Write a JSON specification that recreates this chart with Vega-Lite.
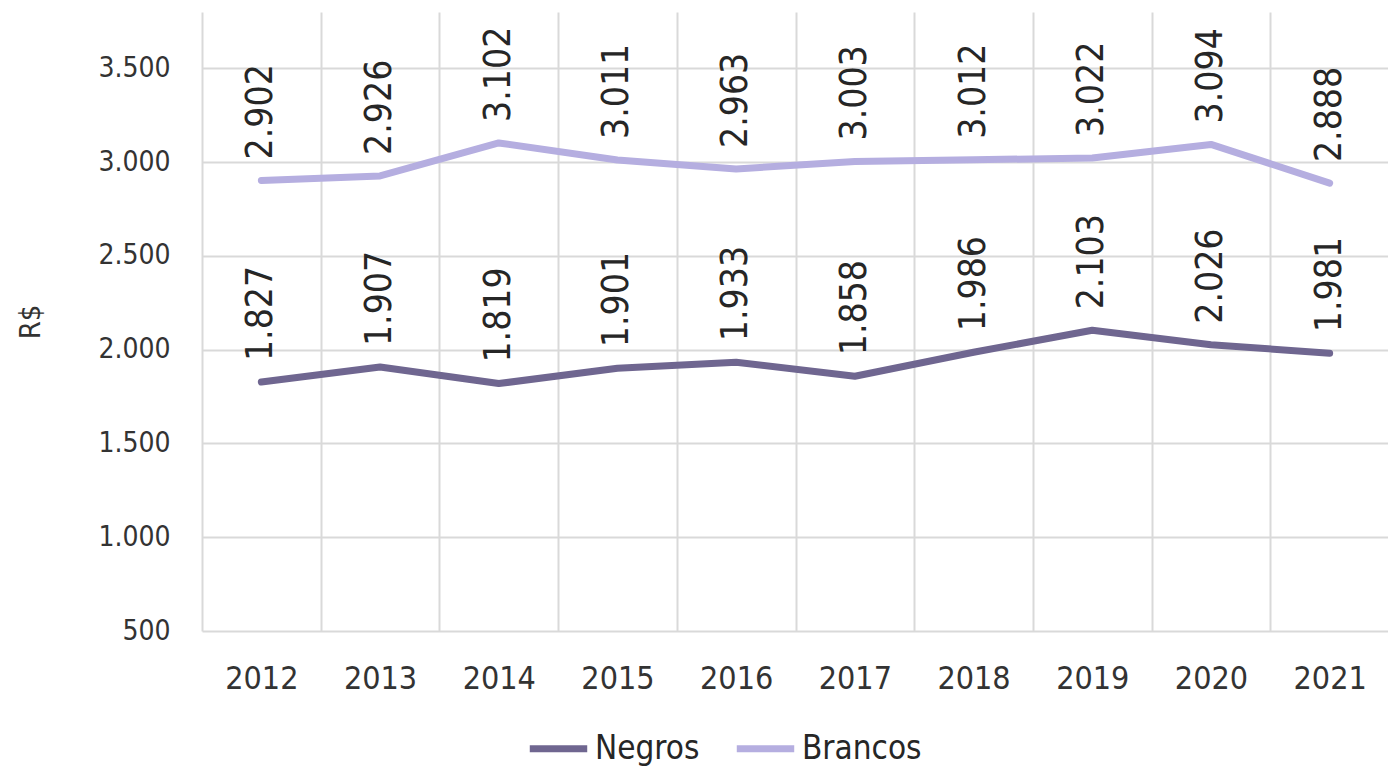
{
  "$schema": "https://vega.github.io/schema/vega-lite/v6.json",
  "width": 1187,
  "height": 619,
  "autosize": {"type": "pad"},
  "padding": {"left": 16, "top": 12, "right": 0, "bottom": 0},
  "background": "white",
  "config": {
    "font": "DejaVu Sans Condensed, sans-serif",
    "view": {"stroke": null},
    "locale": {"number": {"decimal": ",", "thousands": ".", "grouping": [3], "currency": ["R$", ""]}}
  },
  "data": {
    "values": [
      {"ano": "2012", "grupo": "Negros", "valor": 1827},
      {"ano": "2013", "grupo": "Negros", "valor": 1907},
      {"ano": "2014", "grupo": "Negros", "valor": 1819},
      {"ano": "2015", "grupo": "Negros", "valor": 1901},
      {"ano": "2016", "grupo": "Negros", "valor": 1933},
      {"ano": "2017", "grupo": "Negros", "valor": 1858},
      {"ano": "2018", "grupo": "Negros", "valor": 1986},
      {"ano": "2019", "grupo": "Negros", "valor": 2103},
      {"ano": "2020", "grupo": "Negros", "valor": 2026},
      {"ano": "2021", "grupo": "Negros", "valor": 1981},
      {"ano": "2012", "grupo": "Brancos", "valor": 2902},
      {"ano": "2013", "grupo": "Brancos", "valor": 2926},
      {"ano": "2014", "grupo": "Brancos", "valor": 3102},
      {"ano": "2015", "grupo": "Brancos", "valor": 3011},
      {"ano": "2016", "grupo": "Brancos", "valor": 2963},
      {"ano": "2017", "grupo": "Brancos", "valor": 3003},
      {"ano": "2018", "grupo": "Brancos", "valor": 3012},
      {"ano": "2019", "grupo": "Brancos", "valor": 3022},
      {"ano": "2020", "grupo": "Brancos", "valor": 3094},
      {"ano": "2021", "grupo": "Brancos", "valor": 2888}
    ]
  },
  "encoding": {
    "x": {
      "field": "ano",
      "type": "ordinal",
      "bandPosition": 0.5,
      "scale": {"type": "band", "paddingInner": 0, "paddingOuter": 0},
      "axis": {
        "title": null,
        "labelAngle": 0,
        "labelFontSize": 32,
        "labelColor": "#333333",
        "labelPadding": 32,
        "domain": false,
        "ticks": false,
        "grid": true,
        "tickBand": "extent",
        "gridColor": "#d9d9d9",
        "gridWidth": 2
      }
    },
    "y": {
      "field": "valor",
      "type": "quantitative",
      "scale": {"domain": [500, 3800], "nice": false, "zero": false},
      "axis": {
        "title": "R$",
        "titleFontSize": 29,
        "titleFontWeight": "normal",
        "titleColor": "#333333",
        "titlePadding": 52,
        "values": [500, 1000, 1500, 2000, 2500, 3000, 3500],
        "format": ",d",
        "labelFontSize": 28,
        "labelColor": "#333333",
        "labelPadding": 32,
        "domain": false,
        "ticks": false,
        "gridColor": "#d9d9d9",
        "gridWidth": 2
      }
    },
    "color": {
      "field": "grupo",
      "type": "nominal",
      "scale": {"domain": ["Negros", "Brancos"], "range": ["#6f6690", "#b5aee0"]},
      "legend": {
        "title": null,
        "orient": "none",
        "legendX": 324,
        "legendY": 704,
        "direction": "horizontal",
        "symbolType": "stroke",
        "symbolSize": 3300,
        "symbolStrokeWidth": 7,
        "labelFontSize": 33,
        "labelColor": "#262626",
        "labelOffset": 4,
        "columnPadding": 22
      }
    }
  },
  "layer": [
    {
      "mark": {"type": "line", "strokeWidth": 7, "strokeCap": "round", "strokeJoin": "round"}
    },
    {
      "mark": {"type": "text", "angle": 270, "align": "left", "baseline": "middle", "dx": 21, "fontSize": 37, "color": "#262626"},
      "encoding": {
        "text": {"field": "valor", "type": "quantitative", "format": ",d"},
        "color": {"value": "#262626"}
      }
    }
  ]
}
